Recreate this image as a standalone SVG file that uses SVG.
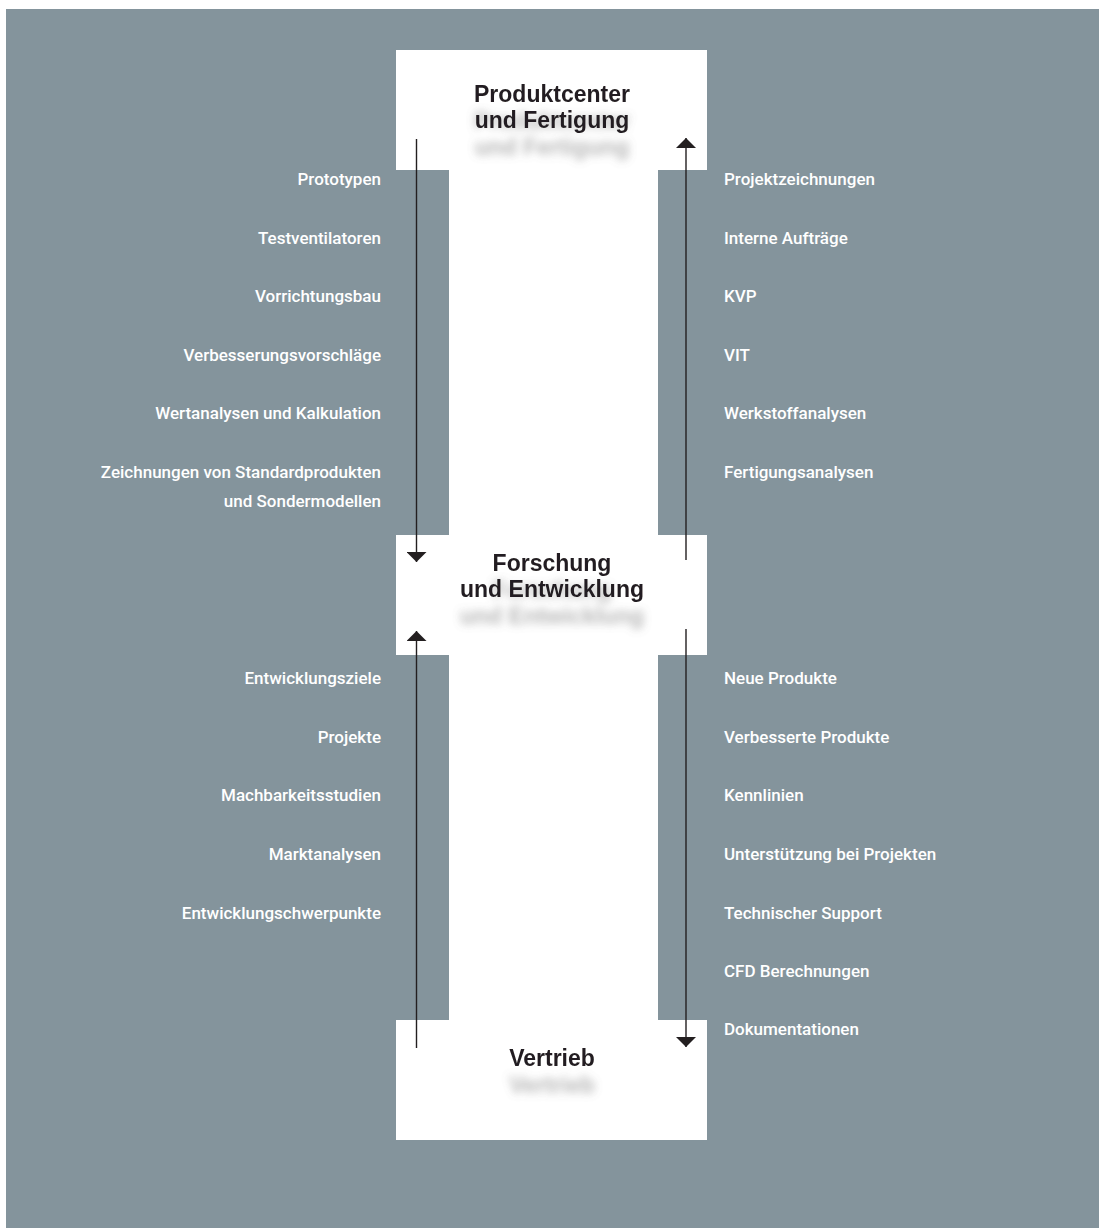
<svg xmlns="http://www.w3.org/2000/svg" width="1105" height="1228" viewBox="0 0 1105 1228">
<style>
.bg{fill:#84949c}
.box{fill:#ffffff}
.title{font-family:"Liberation Sans",Arial,sans-serif;font-weight:700;font-size:23px;fill:#231f20;text-anchor:middle}
.lbl{font-family:Roboto,"Liberation Sans",sans-serif;font-weight:500;font-size:17px;fill:#ffffff}
.l{text-anchor:end}
.r{text-anchor:start}
.conn{stroke:#231f20;stroke-width:1.4;fill:none;marker-end:url(#ah)}
</style>
<defs>
<marker id="ah" viewBox="0 -10 10 20" refX="10" refY="0" markerWidth="10" markerHeight="20" markerUnits="userSpaceOnUse" orient="auto">
<path d="M0,-10 L10,0 L0,10 Z" fill="#231f20"/>
</marker>
<filter id="sh" x="-20%" y="-50%" width="140%" height="300%">
<feGaussianBlur in="SourceAlpha" stdDeviation="4.2"/>
<feOffset dy="27" result="b"/>
<feFlood flood-color="#6a6a6a" flood-opacity="0.5"/>
<feComposite in2="b" operator="in"/>
<feMerge><feMergeNode/><feMergeNode in="SourceGraphic"/></feMerge>
</filter>
</defs>
<rect class="bg" x="6" y="9" width="1093" height="1219"/>
<rect id="band" class="box" x="449" y="160" width="209" height="870"/>
<g id="node-produktcenter">
<rect class="box" x="396" y="50" width="311" height="120"/>
<text class="title" x="552" y="102" filter="url(#sh)"><tspan x="552" y="102">Produktcenter</tspan><tspan x="552" y="128">und Fertigung</tspan></text>
</g>
<g id="node-forschung">
<rect class="box" x="396" y="535" width="311" height="120"/>
<text class="title" x="552" y="571" filter="url(#sh)"><tspan x="552" y="571">Forschung</tspan><tspan x="552" y="597">und Entwicklung</tspan></text>
</g>
<g id="node-vertrieb">
<rect class="box" x="396" y="1020" width="311" height="120"/>
<text class="title" x="552" y="1066" filter="url(#sh)">Vertrieb</text>
</g>
<g id="connectors">
<line class="conn" x1="416.5" y1="139" x2="416.5" y2="562"/>
<line class="conn" x1="686" y1="560" x2="686" y2="138"/>
<line class="conn" x1="416.5" y1="1048" x2="416.5" y2="631"/>
<line class="conn" x1="686" y1="629" x2="686" y2="1047"/>
</g>
<g id="labels-top-left" class="lbl l">
<text x="381" y="185">Prototypen</text>
<text x="381" y="244">Testventilatoren</text>
<text x="381" y="302">Vorrichtungsbau</text>
<text x="381" y="361">Verbesserungsvorschläge</text>
<text x="381" y="419">Wertanalysen und Kalkulation</text>
<text x="381" y="478">Zeichnungen von Standardprodukten</text>
<text x="381" y="507">und Sondermodellen</text>
</g>
<g id="labels-top-right" class="lbl r">
<text x="724" y="185">Projektzeichnungen</text>
<text x="724" y="244">Interne Aufträge</text>
<text x="724" y="302">KVP</text>
<text x="724" y="361">VIT</text>
<text x="724" y="419">Werkstoffanalysen</text>
<text x="724" y="478">Fertigungsanalysen</text>
</g>
<g id="labels-bottom-left" class="lbl l">
<text x="381" y="684">Entwicklungsziele</text>
<text x="381" y="743">Projekte</text>
<text x="381" y="801">Machbarkeitsstudien</text>
<text x="381" y="860">Marktanalysen</text>
<text x="381" y="919">Entwicklungschwerpunkte</text>
</g>
<g id="labels-bottom-right" class="lbl r">
<text x="724" y="684">Neue Produkte</text>
<text x="724" y="743">Verbesserte Produkte</text>
<text x="724" y="801">Kennlinien</text>
<text x="724" y="860">Unterstützung bei Projekten</text>
<text x="724" y="919">Technischer Support</text>
<text x="724" y="977">CFD Berechnungen</text>
<text x="724" y="1035">Dokumentationen</text>
</g>
</svg>
